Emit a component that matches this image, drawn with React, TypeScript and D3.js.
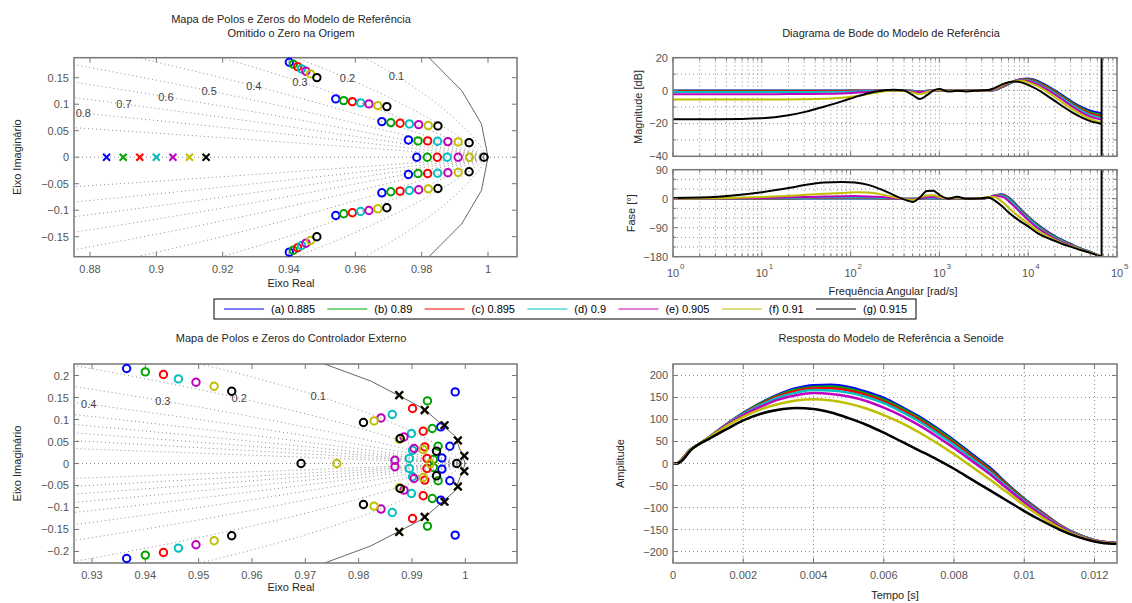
import React, { useEffect, useRef } from "react";
import * as d3 from "d3";

const W = 1132;
const H = 603;
const FONT = "'Liberation Sans', Arial, Helvetica, sans-serif";

// ---------------- series ----------------
const seriesLabels = ["(a) 0.885", "(b) 0.89", "(c) 0.895", "(d) 0.9", "(e) 0.905", "(f) 0.91", "(g) 0.915"];
const seriesParam = [0.885, 0.89, 0.895, 0.9, 0.905, 0.91, 0.915];
const seriesColors = ["#0000ff", "#00a300", "#ff0000", "#00bfbf", "#bf00bf", "#bfbf00", "#000000"];

// ---------------- reference model pole-zero (upper half; im = 0 -> real zero) ----------------
const refZeroRe = [
  [0.9401, 0.9541, 0.968, 0.976, 0.9785],
  [0.9413, 0.9565, 0.9707, 0.9789, 0.9817],
  [0.9426, 0.9591, 0.9735, 0.9818, 0.9847],
  [0.9438, 0.9616, 0.9763, 0.9848, 0.9877],
  [0.9451, 0.9641, 0.9791, 0.9879, 0.991],
  [0.9465, 0.9668, 0.982, 0.991, 0.9944],
  [0.9484, 0.9695, 0.9849, 0.9943, 0.9988],
];
const refZeroIm = [
  [0.1792, 0.11, 0.0672, 0.0326, 0],
  [0.1755, 0.1068, 0.0653, 0.0308, 0],
  [0.1709, 0.1049, 0.0641, 0.0308, 0],
  [0.1666, 0.1025, 0.0628, 0.0302, 0],
  [0.1623, 0.1006, 0.0615, 0.0294, 0],
  [0.1572, 0.0974, 0.0597, 0.0289, 0],
  [0.1502, 0.0955, 0.0591, 0.0275, 0],
];

// ---------------- external controller pole-zero ----------------
const ctrlZeroRe = [
  [0.9365, 0.9981, 0.9954, 0.9971, 0.9956],
  [0.94, 0.9929, 0.9938, 0.9949, 0.994],
  [0.9434, 0.9901, 0.9921, 0.9924, 0.9928],
  [0.9462, 0.9863, 0.9899, 0.9901, 0.9895],
  [0.9495, 0.9842, 0.9885, 0.9904, 0.9868],
  [0.9529, 0.9829, 0.9876, 0.9921, 0.9759, 0.9934],
  [0.9562, 0.9809, 0.9878, 0.9946, 0.9692, 0.9984],
];
const ctrlZeroIm = [
  [0.2159, 0.1628, 0.0832, 0.0393, 0.0127],
  [0.2082, 0.1423, 0.0795, 0.0393, 0.0091],
  [0.2023, 0.125, 0.0734, 0.0377, 0.0114],
  [0.1923, 0.1114, 0.0682, 0.0302, 0.0114],
  [0.1848, 0.1036, 0.0605, 0.0341, 0.0075],
  [0.1757, 0.0968, 0.0552, 0.0318, 0, 0],
  [0.1643, 0.0932, 0.0568, 0.028, 0, 0],
];
const ctrlPoleRe = [0.9876, 0.9924, 0.9961, 0.9986, 0.9998];
const ctrlPoleIm = [0.1556, 0.1215, 0.0868, 0.0524, 0.0174];

// z-plane grid
const zetaValues = [0.1, 0.2, 0.3, 0.4, 0.5, 0.6, 0.7, 0.8, 0.9];
const zetaLabelWn = 0.05 * Math.PI;
const unitCircleSegments = 100;

// ---------------- Bode ----------------
const bodeFreq = [1, 3.16, 10, 20, 31.6, 50.1, 79.4, 112, 158, 224, 302, 398, 501, 603, 724, 851, 1000, 1259, 1585, 1995, 2818, 3548, 4169, 5012, 6026, 7079, 8318, 10000, 12589, 15849, 19953, 25119, 31623, 39811, 50119, 67100];
const nyquistFreq = 67100;
const bodeMag = [
  [0, 0, 0, 0, 0, 0, 0, 0, 0, 0, 0.1, 0, -0.1, -0.3, -0.1, 0, 0.1, 0, 0, 0, 0, 0, 0.2, 1.9, 3.9, 5.8, 7.0, 7.3, 6.0, 3.3, 0.1, -3.4, -7.0, -10.0, -12.3, -13.8],
  [-0.15, -0.15, -0.15, -0.15, -0.14, -0.12, -0.1, -0.08, -0.05, 0, 0.1, 0, -0.15, -0.4, -0.15, 0, 0.1, 0, 0, 0, 0, 0, 0.3, 2.0, 4.0, 5.9, 6.9, 7.0, 5.5, 2.8, -0.4, -4.0, -7.6, -10.7, -13.1, -14.8],
  [-0.35, -0.35, -0.35, -0.34, -0.32, -0.28, -0.22, -0.16, -0.1, -0.03, 0.1, 0, -0.2, -0.5, -0.2, 0, 0.15, -0.05, 0, 0, 0, 0, 0.4, 2.1, 4.2, 5.9, 6.8, 6.7, 5.1, 2.4, -0.9, -4.6, -8.2, -11.4, -13.9, -15.7],
  [-0.9, -0.9, -0.9, -0.88, -0.85, -0.78, -0.65, -0.5, -0.3, -0.1, 0.1, 0, -0.3, -0.6, -0.3, 0, 0.2, -0.1, 0, -0.05, 0, 0, 0.5, 2.3, 4.4, 5.9, 6.6, 6.3, 4.6, 1.8, -1.5, -5.2, -8.9, -12.2, -14.8, -16.7],
  [-2.2, -2.2, -2.18, -2.15, -2.1, -2.0, -1.75, -1.4, -0.8, -0.25, 0, -0.1, -0.6, -1.0, -0.5, 0, 0.2, -0.1, 0, -0.1, 0, 0, 0.7, 2.6, 4.6, 5.9, 6.3, 5.8, 3.9, 1.0, -2.4, -6.1, -9.9, -13.2, -15.9, -17.8],
  [-5.5, -5.5, -5.45, -5.4, -5.3, -5.0, -4.4, -3.5, -2.1, -0.7, 0.1, -0.2, -1.2, -2.2, -1.0, 0, 0.4, -0.3, 0, -0.2, 0, 0.1, 1.0, 3.0, 4.8, 5.7, 5.9, 5.0, 2.8, -0.3, -3.9, -7.8, -11.4, -14.6, -17.3, -19.6],
  [-17.5, -17.4, -16.8, -15.0, -12.8, -9.8, -6.6, -4.0, -1.6, -0.1, 0.5, 0.0, -2.8, -5.2, -2.8, 0.0, 0.9, -0.6, -0.1, -0.5, 0.1, 0.3, 1.5, 3.6, 5.0, 5.5, 5.0, 3.5, 0.8, -2.6, -6.3, -10.0, -13.4, -16.3, -18.6, -20.3],
];
const bodePhase = [
  [0, 0.1, 0.3, 0.5, 0.7, 0.9, 1.0, 1.0, 0.9, 0.6, 0.2, -0.2, -0.3, 0.5, 1.0, 0.8, 0.3, 0, 0.3, 0, 0.2, 3, 9, 14, 4, -14, -34, -55, -79, -99, -116, -130, -143, -155, -165, -180],
  [0, 0.2, 0.5, 0.8, 1.1, 1.4, 1.6, 1.6, 1.4, 1.0, 0.3, -0.3, -0.4, 0.7, 1.5, 1.2, 0.4, 0, 0.4, 0, 0.2, 3, 9, 13, 2, -16, -36, -57, -81, -101, -118, -132, -144, -156, -166, -180],
  [0, 0.3, 0.8, 1.3, 1.8, 2.2, 2.5, 2.5, 2.2, 1.5, 0.5, -0.4, -0.6, 1.0, 2.2, 1.7, 0.6, 0, 0.6, 0, 0.3, 3, 9, 12, 0, -18, -38, -59, -83, -103, -120, -133, -145, -157, -166, -180],
  [0, 0.5, 1.3, 2.2, 3.0, 3.6, 4.0, 4.0, 3.5, 2.4, 0.8, -0.6, -1.0, 1.5, 3.2, 2.5, 0.9, 0, 0.8, 0, 0.4, 3, 9, 11, -2, -20, -40, -61, -85, -105, -121, -134, -146, -157, -166, -180],
  [0.1, 1, 2.5, 4.2, 5.6, 6.8, 7.8, 8.0, 7.2, 5.0, 1.8, -1.0, -1.8, 1.5, 4.5, 5, 2.5, 0, 1.3, 0, 0.6, 4, 8, 7, -8, -26, -45, -66, -90, -108, -124, -137, -147, -158, -167, -180],
  [0.3, 1.5, 5, 9, 12, 15, 18, 20, 19, 13, 5, -1, -4, 4, 10, 11, 5, 0, 3, 0, 1, 5, 5, -8, -28, -45, -61, -77, -98, -114, -128, -140, -149, -159, -167, -180],
  [2, 6, 20, 33, 43, 50, 52, 50, 43, 28, 12, -2, -10, 4, 24, 25, 12, 0, 6, 0, 1, 4, -5, -22, -43, -58, -72, -86, -106, -120, -131, -142, -151, -160, -168, -180],
];

// ---------------- sine response ----------------
const timeT = [0, 0.0001, 0.0002, 0.0003, 0.0005, 0.0007, 0.001, 0.0015, 0.002, 0.0025, 0.003, 0.0035, 0.004, 0.0045, 0.005, 0.0055, 0.006, 0.0065, 0.007, 0.0075, 0.008, 0.0085, 0.009, 0.0095, 0.01, 0.0105, 0.011, 0.0115, 0.012, 0.0125, 0.01264];
const timeY = [
  [0, 0, 5, 14, 32, 42, 58, 88, 115, 138, 157, 171, 178, 179, 174, 163, 149, 129, 107, 81, 53, 22, -8, -45, -80, -110, -139, -160, -174, -180, -181],
  [0, 0, 5, 14, 32, 42, 58, 88, 114, 137, 155, 168, 174, 175, 170, 159, 145, 126, 104, 78, 50, 19, -11, -47, -81, -111, -139, -160, -174, -180, -181],
  [0, 0, 5, 14, 32, 42, 58, 87, 113, 135, 153, 165, 171, 171, 166, 156, 141, 122, 100, 74, 46, 16, -14, -49, -83, -112, -140, -161, -174, -180, -181],
  [0, 0, 4, 13, 32, 42, 58, 87, 112, 133, 150, 161, 167, 166, 161, 151, 137, 118, 96, 70, 42, 12, -18, -52, -85, -114, -141, -161, -174, -180, -181],
  [0, 0, 4, 13, 31, 42, 57, 86, 110, 129, 145, 155, 160, 158, 152, 142, 127, 109, 87, 62, 35, 6, -23, -56, -88, -117, -143, -162, -175, -180, -181],
  [0, 0, 4, 12, 31, 42, 57, 84, 106, 123, 135, 143, 146, 143, 136, 125, 110, 92, 71, 47, 21, -7, -35, -65, -95, -122, -146, -164, -176, -181, -182],
  [0, 0, 3, 10, 30, 42, 55, 77, 98, 113, 122, 126, 124, 116, 103, 88, 70, 50, 30, 10, -12, -36, -60, -84, -108, -130, -150, -166, -177, -182, -182],
];

// ---------------- ticks ----------------
const tlXTicks = [0.88, 0.9, 0.92, 0.94, 0.96, 0.98, 1];
const tlYTicks = [-0.15, -0.1, -0.05, 0, 0.05, 0.1, 0.15];
const blXTicks = [0.93, 0.94, 0.95, 0.96, 0.97, 0.98, 0.99, 1];
const blYTicks = [-0.2, -0.15, -0.1, -0.05, 0, 0.05, 0.1, 0.15, 0.2];
const magTicks = [-40, -20, 0, 20];
const magGrid = [-30, -20, -10, 0, 10];
const phaseTicks = [-180, -90, 0, 90];
const phaseGrid = [-150, -120, -90, -60, -30, 0, 30, 60];
const freqDecades = [0, 1, 2, 3, 4, 5];
const timeTicks = [0, 0.002, 0.004, 0.006, 0.008, 0.01, 0.012];
const ampTicks = [-200, -150, -100, -50, 0, 50, 100, 150, 200];

type Box = { x0: number; x1: number; y0: number; y1: number };
type Sel = d3.Selection<any, any, any, any>;

const TL: Box = { x0: 74, x1: 517, y0: 57.7, y1: 256.7 };
const BL: Box = { x0: 74, x1: 517, y0: 364, y1: 563 };
const MAG: Box = { x0: 673, x1: 1117, y0: 57.7, y1: 156.3 };
const PH: Box = { x0: 673, x1: 1117, y0: 169.7, y1: 256.7 };
const BR: Box = { x0: 673, x1: 1117, y0: 364, y1: 563 };

const AXIS = "#777";
const TICKTEXT = "#555";
const LABEL = "#262626";
const GRID = "#8a8a8a";
const fmt = d3.format("~g");

function addText(g: Sel, x: number, y: number, s: string, o: { size?: number; fill?: string; anchor?: string; rotate?: boolean } = {}) {
  const t = g
    .append("text")
    .attr("x", x)
    .attr("y", y)
    .text(s)
    .attr("font-size", o.size ?? 11)
    .attr("fill", o.fill ?? LABEL)
    .attr("text-anchor", o.anchor ?? "middle");
  if (o.rotate) t.attr("transform", `rotate(-90 ${x} ${y})`);
  return t;
}

function drawFrame(g: Sel, b: Box, xPos: number[], yPos: number[], len: number, xMinor: number[] = [], yMinor: number[] = [], mlen = 3) {
  const p = d3.path();
  const tx = (arr: number[], l: number) => {
    for (const x of arr) {
      p.moveTo(x, b.y1);
      p.lineTo(x, b.y1 - l);
      p.moveTo(x, b.y0);
      p.lineTo(x, b.y0 + l);
    }
  };
  const ty = (arr: number[], l: number) => {
    for (const y of arr) {
      p.moveTo(b.x0, y);
      p.lineTo(b.x0 + l, y);
      p.moveTo(b.x1, y);
      p.lineTo(b.x1 - l, y);
    }
  };
  tx(xPos, len);
  ty(yPos, len);
  tx(xMinor, mlen);
  ty(yMinor, mlen);
  g.append("path").attr("d", p.toString()).attr("stroke", AXIS).attr("stroke-width", 1).attr("fill", "none");
  g.append("rect")
    .attr("x", b.x0)
    .attr("y", b.y0)
    .attr("width", b.x1 - b.x0)
    .attr("height", b.y1 - b.y0)
    .attr("fill", "none")
    .attr("stroke", AXIS)
    .attr("stroke-width", 1.5);
}

function makeClip(defs: Sel, id: string, b: Box) {
  defs.append("clipPath").attr("id", id).append("rect").attr("x", b.x0).attr("y", b.y0).attr("width", b.x1 - b.x0).attr("height", b.y1 - b.y0);
  return `url(#${id})`;
}

function circleMark(g: Sel, cx: number, cy: number, color: string) {
  g.append("circle").attr("cx", cx).attr("cy", cy).attr("r", 3.7).attr("fill", "none").attr("stroke", color).attr("stroke-width", 2);
}
function crossMark(g: Sel, cx: number, cy: number, color: string, s = 3.5) {
  g.append("path")
    .attr("d", `M${cx - s},${cy - s}L${cx + s},${cy + s}M${cx - s},${cy + s}L${cx + s},${cy - s}`)
    .attr("stroke", color)
    .attr("stroke-width", 2)
    .attr("fill", "none");
}

function pzPanel(svg: Sel, defs: Sel, id: string, b: Box, xDom: [number, number], yDom: [number, number], xTicks: number[], yTicks: number[]) {
  const x = d3.scaleLinear().domain(xDom).range([b.x0, b.x1]);
  const y = d3.scaleLinear().domain(yDom).range([b.y1, b.y0]);
  const clip = makeClip(defs, id, b);
  const gg = svg.append("g").attr("clip-path", clip);
  const dotted = (sel: Sel) => sel.attr("fill", "none").attr("stroke", GRID).attr("stroke-width", 1).attr("stroke-dasharray", "1 3");
  // real axis
  dotted(gg.append("line").attr("x1", b.x0).attr("x2", b.x1).attr("y1", y(0)).attr("y2", y(0)));
  const line = d3.line<[number, number]>();
  for (const z of zetaValues) {
    const k = z / Math.sqrt(1 - z * z);
    for (const s of [1, -1]) {
      const pts = d3.range(0, 0.9, 0.002).map((th) => {
        const r = Math.exp(-k * th);
        return [x(r * Math.cos(th)), y(s * r * Math.sin(th))] as [number, number];
      });
      dotted(gg.append("path").attr("d", line(pts)));
    }
  }
  const circ = d3.range(0, unitCircleSegments + 1).map((i) => {
    const a = (2 * Math.PI * i) / unitCircleSegments;
    return [x(Math.cos(a)), y(Math.sin(a))] as [number, number];
  });
  gg.append("path").attr("d", line(circ)).attr("fill", "none").attr("stroke", "#666").attr("stroke-width", 1);
  for (const z of zetaValues) {
    const r = Math.exp(-z * zetaLabelWn);
    const th = zetaLabelWn * Math.sqrt(1 - z * z);
    const px = x(r * Math.cos(th));
    const py = y(r * Math.sin(th));
    if (px > b.x0 + 8 && px < b.x1 - 8) {
      addText(svg, px, py + 4, fmt(z), { fill: "#444" });
    }
  }
  drawFrame(svg, b, xTicks.map(x), yTicks.map(y), 5);
  for (const t of xTicks) addText(svg, x(t), b.y1 + 16, fmt(t), { fill: TICKTEXT });
  for (const t of yTicks) addText(svg, b.x0 - 5, y(t) + 4, fmt(t), { fill: TICKTEXT, anchor: "end" });
  return { x, y };
}

function draw(node: SVGSVGElement) {
  const svg = d3.select(node) as unknown as Sel;
  svg.selectAll("*").remove();
  svg.append("rect").attr("width", W).attr("height", H).attr("fill", "#fff");
  const defs = svg.append("defs") as unknown as Sel;

  // ===== top-left: reference model pole-zero map =====
  {
    const { x, y } = pzPanel(svg, defs, "clipTL", TL, [0.87518, 1.00874], [-0.1878, 0.1878], tlXTicks, tlYTicks);
    const g = svg.append("g");
    seriesColors.forEach((c, i) => {
      crossMark(g, x(seriesParam[i]), y(0), c);
      refZeroRe[i].forEach((re, j) => {
        const im = refZeroIm[i][j];
        circleMark(g, x(re), y(im), c);
        if (im !== 0) circleMark(g, x(re), y(-im), c);
      });
    });
    addText(svg, 291, 23, "Mapa de Polos e Zeros do Modelo de Referência");
    addText(svg, 291, 37, "Omitido o Zero na Origem");
    addText(svg, 291, 287, "Eixo Real");
    addText(svg, 21, (TL.y0 + TL.y1) / 2, "Eixo Imaginário", { rotate: true });
  }

  // ===== bottom-left: controller pole-zero map =====
  {
    const { x, y } = pzPanel(svg, defs, "clipBL", BL, [0.92663, 1.00969], [-0.2262, 0.2262], blXTicks, blYTicks);
    const g = svg.append("g");
    seriesColors.forEach((c, i) => {
      ctrlPoleRe.forEach((re, j) => {
        crossMark(g, x(re), y(ctrlPoleIm[j]), c, 3.7);
        crossMark(g, x(re), y(-ctrlPoleIm[j]), c, 3.7);
      });
      ctrlZeroRe[i].forEach((re, j) => {
        const im = ctrlZeroIm[i][j];
        circleMark(g, x(re), y(im), c);
        if (im !== 0) circleMark(g, x(re), y(-im), c);
      });
    });
    addText(svg, 291, 342, "Mapa de Polos e Zeros do Controlador Externo");
    addText(svg, 291, 591, "Eixo Real");
    addText(svg, 21, (BL.y0 + BL.y1) / 2, "Eixo Imaginário", { rotate: true });
  }

  // ===== Bode =====
  {
    const xf = d3.scaleLog().domain([1, 1e5]).range([MAG.x0, MAG.x1]);
    const ym = d3.scaleLinear().domain([-40, 20]).range([MAG.y1, MAG.y0]);
    const yp = d3.scaleLinear().domain([-180, 90]).range([PH.y1, PH.y0]);
    const majors = freqDecades.map((k) => Math.pow(10, k));
    const minors: number[] = [];
    for (const k of freqDecades.slice(0, -1)) for (let m = 2; m <= 9; m++) minors.push(m * Math.pow(10, k));
    const vgrid = [...majors.slice(1, -1), ...minors];

    const panels: [Box, d3.ScaleLinear<number, number>, number[], number[], number[][], string, number[]][] = [
      [MAG, ym, magGrid, magTicks, bodeMag, "clipMAG", [-30, -10, 10]],
      [PH, yp, phaseGrid, phaseTicks, bodePhase, "clipPH", [-150, -120, -60, -30, 30, 60]],
    ];
    for (const [b, ys, hg, ticks, data, id, yMinor] of panels) {
      const clip = makeClip(defs, id, b);
      const gg = svg.append("g").attr("clip-path", clip);
      for (const f of vgrid)
        gg.append("line").attr("x1", xf(f)).attr("x2", xf(f)).attr("y1", b.y0).attr("y2", b.y1).attr("stroke", GRID).attr("stroke-dasharray", "1 3");
      for (const v of hg)
        gg.append("line").attr("x1", b.x0).attr("x2", b.x1).attr("y1", ys(v)).attr("y2", ys(v)).attr("stroke", GRID).attr("stroke-dasharray", "1 3");
      const ln = d3
        .line<number>()
        .x((_, i) => xf(bodeFreq[i]))
        .y((d) => ys(d))
        .curve(d3.curveMonotoneX);
      data.forEach((arr, i) => {
        gg.append("path").attr("d", ln(arr)).attr("fill", "none").attr("stroke", seriesColors[i]).attr("stroke-width", 2).attr("stroke-linejoin", "round");
      });
      gg.append("line").attr("x1", xf(nyquistFreq)).attr("x2", xf(nyquistFreq)).attr("y1", b.y0).attr("y2", b.y1).attr("stroke", "#000").attr("stroke-width", 2);
      drawFrame(svg, b, majors.map(xf), ticks.map(ys), 5, minors.map(xf), yMinor.map(ys), 3);
      for (const t of ticks) addText(svg, b.x0 - 5, ys(t) + 4, fmt(t), { fill: TICKTEXT, anchor: "end" });
    }
    for (const k of freqDecades) {
      const px = xf(Math.pow(10, k));
      addText(svg, px, 277, "10", { fill: TICKTEXT });
      addText(svg, px + 7, 269, String(k), { fill: TICKTEXT, size: 8, anchor: "start" });
    }
    addText(svg, 891, 37, "Diagrama de Bode do Modelo de Referência");
    addText(svg, 893, 295, "Frequência Angular [rad/s]");
    addText(svg, 642, (MAG.y0 + MAG.y1) / 2, "Magnitude [dB]", { rotate: true });
    addText(svg, 635, (PH.y0 + PH.y1) / 2, "Fase [°]", { rotate: true });
  }

  // ===== bottom-right: sine response =====
  {
    const b = BR;
    const x = d3.scaleLinear().domain([0, 0.01264]).range([b.x0, b.x1]);
    const y = d3.scaleLinear().domain([-226, 226]).range([b.y1, b.y0]);
    const clip = makeClip(defs, "clipBR", b);
    const gg = svg.append("g").attr("clip-path", clip);
    for (const t of timeTicks)
      gg.append("line").attr("x1", x(t)).attr("x2", x(t)).attr("y1", b.y0).attr("y2", b.y1).attr("stroke", GRID).attr("stroke-dasharray", "1 3");
    for (const v of ampTicks)
      gg.append("line").attr("x1", b.x0).attr("x2", b.x1).attr("y1", y(v)).attr("y2", y(v)).attr("stroke", GRID).attr("stroke-dasharray", "1 3");
    const ln = d3
      .line<number>()
      .x((_, i) => x(timeT[i]))
      .y((d) => y(d))
      .curve(d3.curveMonotoneX);
    timeY.forEach((arr, i) => {
      gg.append("path").attr("d", ln(arr)).attr("fill", "none").attr("stroke", seriesColors[i]).attr("stroke-width", 2.5).attr("stroke-linejoin", "round");
    });
    drawFrame(svg, b, timeTicks.map(x), ampTicks.map(y), 5);
    for (const t of timeTicks) addText(svg, x(t), b.y1 + 16, fmt(t), { fill: TICKTEXT });
    for (const t of ampTicks) addText(svg, b.x0 - 5, y(t) + 4, fmt(t), { fill: TICKTEXT, anchor: "end" });
    addText(svg, 891, 342, "Resposta do Modelo de Referência a Senoide");
    addText(svg, 895, 599, "Tempo [s]");
    addText(svg, 624, (b.y0 + b.y1) / 2, "Amplitude", { rotate: true });
  }

  // ===== legend =====
  {
    const lg = svg.append("g");
    lg.append("rect").attr("x", 214).attr("y", 299).attr("width", 702).attr("height", 20).attr("fill", "#fff").attr("stroke", "#000").attr("stroke-width", 1);
    const texts = seriesLabels.map((s) => lg.append("text").text(s).attr("font-size", 11).attr("fill", "#000").attr("y", 313));
    const widths = texts.map((t) => (t.node() as SVGTextElement).getComputedTextLength());
    const lineLen = 40;
    const gapLT = 7;
    const startX = 224;
    const endX = 907;
    const used = widths.reduce((a, w) => a + lineLen + gapLT + w, 0);
    const gap = (endX - startX - used) / (seriesLabels.length - 1);
    let cx = startX;
    seriesLabels.forEach((_, i) => {
      lg.append("line").attr("x1", cx).attr("x2", cx + lineLen).attr("y1", 309).attr("y2", 309).attr("stroke", seriesColors[i]).attr("stroke-width", 1);
      texts[i].attr("x", cx + lineLen + gapLT);
      cx += lineLen + gapLT + widths[i] + gap;
    });
  }
}

export default function App() {
  const ref = useRef<SVGSVGElement>(null);
  useEffect(() => {
    if (ref.current) draw(ref.current);
  }, []);
  return (
    <svg
      ref={ref}
      width={W}
      height={H}
      style={{ position: "absolute", left: 0, top: 0, display: "block", fontFamily: FONT, background: "#fff" }}
    />
  );
}
